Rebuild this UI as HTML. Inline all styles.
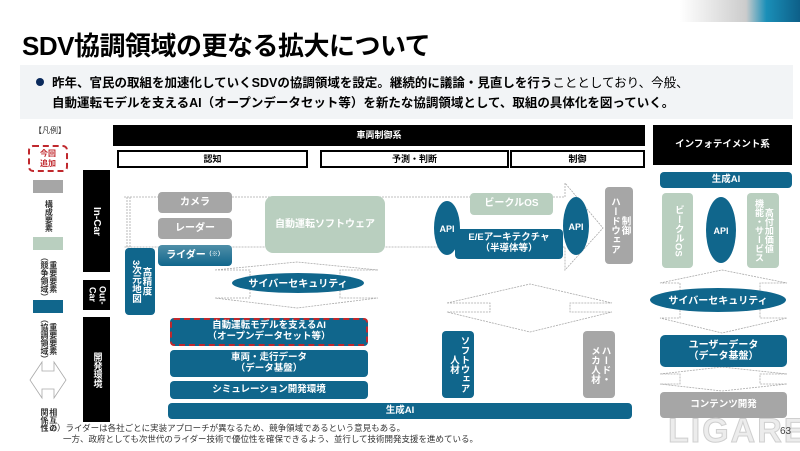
<!DOCTYPE html>
<html><head><meta charset="utf-8"><style>
*{margin:0;padding:0;box-sizing:border-box}
body{width:800px;height:450px;background:#fff;position:relative;overflow:hidden;font-family:"Liberation Sans","Noto Sans CJK JP",sans-serif}
.a{position:absolute;display:flex;align-items:center;justify-content:center;text-align:center;font-weight:bold;line-height:1.15}
.t{background:#10668c;color:#fff;border-radius:4px}
.g{background:#a6a6a6;color:#fff;border-radius:4px}
.l{background:#b9cfbf;color:#fff;border-radius:4px}
.k{background:#000;color:#fff}
.v{writing-mode:vertical-rl;line-height:1.1;white-space:nowrap}
.b{background:#fff;border:2px solid #000;color:#000;font-size:9px}
</style></head><body>
<div style="position:absolute;left:680px;top:0;width:120px;height:22px;background:linear-gradient(90deg,#fff 0%,#ccc 55%,#1a8fb8 72%,#0d5f88 100%)"></div>
<div style="position:absolute;left:22px;top:26px;font-size:26px;font-weight:bold;color:#000;letter-spacing:-0.5px">SDV協調領域の更なる拡大について</div>
<div style="position:absolute;left:20px;top:65px;width:773px;height:54px;background:#f2f4f6"></div>
<div style="position:absolute;left:36px;top:78px;width:8px;height:8px;border-radius:50%;background:#0b2a5c"></div>
<div style="position:absolute;left:52px;top:73px;font-size:12.5px;font-weight:bold;color:#000;line-height:20px;white-space:nowrap">昨年、官民の取組を加速化していくSDVの協調領域を設定。継続的に議論・見直しを行う<span style="font-weight:normal">こととしており、今般、</span><br>自動運転モデルを支えるAI（オープンデータセット等）を新たな協調領域として、取組の具体化を図っていく。</div>

<!-- legend -->
<div style="position:absolute;left:34px;top:125px;font-size:8px;color:#333">【凡例】</div>
<div class="a" style="left:28px;top:145px;width:40px;height:27px;border:2px dashed #c0282d;border-radius:5px;color:#c0282d;font-size:8px">今回<br>追加</div>
<div style="position:absolute;left:33px;top:180px;width:30px;height:13px;background:#a6a6a6"></div>
<div class="a v" style="left:38px;top:197px;width:20px;height:38px;font-size:8px;color:#333">構成要素</div>
<div style="position:absolute;left:33px;top:237px;width:30px;height:13px;background:#b9cfbf"></div>
<div class="a v" style="left:33px;top:254px;width:30px;height:46px;font-size:8px;color:#333">重要要素<br>（競争領域）</div>
<div style="position:absolute;left:33px;top:300px;width:30px;height:13px;background:#10668c"></div>
<div class="a v" style="left:33px;top:316px;width:30px;height:46px;font-size:8px;color:#333">重要要素<br>（協調領域）</div>
<div class="a v" style="left:33px;top:402px;width:30px;height:36px;font-size:8px;color:#333">相互の<br>関係性</div>

<!-- side bars -->
<div class="a k v" style="left:83px;top:170px;width:27px;height:102px;font-size:10px">In-Car</div>
<div class="a k v" style="left:83px;top:280px;width:27px;height:30px;font-size:9px">Out-<br>Car</div>
<div class="a k v" style="left:83px;top:317px;width:27px;height:105px;font-size:9px">開発環境</div>

<!-- headers -->
<div class="a k" style="left:113px;top:125px;width:532px;height:21px;font-size:9px">車両制御系</div>
<div class="a b" style="left:117px;top:150px;width:191px;height:18px">認知</div>
<div class="a b" style="left:320px;top:150px;width:189px;height:18px">予測・判断</div>
<div class="a b" style="left:510px;top:150px;width:135px;height:18px">制御</div>
<div class="a k" style="left:653px;top:125px;width:139px;height:40px;font-size:9.5px">インフォテイメント系</div>

<svg style="position:absolute;left:0;top:0" width="800" height="450">
<g fill="none" stroke="#aaa" stroke-width="0.8" stroke-dasharray="2,1">
<path d="M124,197 L565,197 L565,183 L603,228 L565,270 L565,247 L124,247"/>
<path d="M127,197V247M130,197V247"/>
<path d="M215,270 L297,262 L378,270 L340,270 L340,298 L378,298 L297,308 L215,298 L250,298 L250,270 Z"/>
<path d="M447,303 L530,284 L612,303 L570,303 L570,312 L612,312 L530,332 L447,312 L490,312 L490,303 Z"/>
<path d="M660,283 L722,270 L787,283 L760,283 L760,318 L787,318 L722,333 L660,318 L680,318 L680,283 Z"/>
<path d="M660,374 L722,367 L787,374 L760,374 L760,384 L787,384 L722,391 L660,384 L680,384 L680,374 Z"/>
</g>
<path d="M30,380 L42,362 L42,371 L54,371 L54,362 L66,380 L54,398 L54,389 L42,389 L42,398 Z" fill="none" stroke="#aaa" stroke-width="0.8"/>
<ellipse cx="298" cy="283" rx="66" ry="10" fill="#10668c"/>
<text x="298" y="287" font-size="10" font-weight="bold" fill="#fff" text-anchor="middle" font-family="Liberation Sans,Noto Sans CJK JP,sans-serif">サイバーセキュリティ</text>
<ellipse cx="718" cy="300" rx="68" ry="12" fill="#10668c"/>
<text x="718" y="304" font-size="10" font-weight="bold" fill="#fff" text-anchor="middle" font-family="Liberation Sans,Noto Sans CJK JP,sans-serif">サイバーセキュリティ</text>
<ellipse cx="447" cy="228" rx="13" ry="27" fill="#10668c"/>
<text x="447" y="232" font-size="9" font-weight="bold" fill="#fff" text-anchor="middle" font-family="Liberation Sans,sans-serif">API</text>
<ellipse cx="721" cy="230" rx="15" ry="33" fill="#10668c"/>
<text x="721" y="234" font-size="9" font-weight="bold" fill="#fff" text-anchor="middle" font-family="Liberation Sans,sans-serif">API</text>
</svg>

<div class="a g" style="left:158px;top:192px;width:74px;height:21px;font-size:10px">カメラ</div>
<div class="a g" style="left:158px;top:218px;width:74px;height:21px;font-size:10px">レーダー</div>
<div class="a t" style="left:158px;top:245px;width:74px;height:21px;font-size:10px;background:linear-gradient(#4f8fa8,#10668c)">ライダー<span style="font-size:6px">（※）</span></div>
<div class="a t v" style="left:125px;top:248px;width:30px;height:67px;font-size:9.5px">高精度<br>3次元地図</div>
<div class="a l" style="left:265px;top:196px;width:120px;height:57px;font-size:10px;border-radius:8px">自動運転ソフトウェア</div>
<div class="a l" style="left:470px;top:193px;width:83px;height:22px;font-size:10px">ビークルOS</div>
<div class="a t" style="left:455px;top:229px;width:108px;height:30px;font-size:9.5px">E/Eアーキテクチャ<br>（半導体等）</div>
<svg style="position:absolute;left:560px;top:195px" width="32" height="62"><ellipse cx="16" cy="31" rx="13" ry="29" fill="#10668c"/><text x="16" y="35" font-size="9" font-weight="bold" fill="#fff" text-anchor="middle" font-family="Liberation Sans,sans-serif">API</text></svg>
<div class="a g v" style="left:605px;top:187px;width:28px;height:77px;font-size:9.5px">制御<br>ハードウェア</div>

<div class="a t" style="left:170px;top:318px;width:198px;height:28px;font-size:9.5px;border:2px dashed #c0282d">自動運転モデルを支えるAI<br>（オープンデータセット等）</div>
<div class="a t" style="left:170px;top:350px;width:198px;height:27px;font-size:9.5px">車両・走行データ<br>（データ基盤）</div>
<div class="a t" style="left:170px;top:381px;width:198px;height:18px;font-size:9.5px">シミュレーション開発環境</div>
<div class="a t" style="left:168px;top:403px;width:464px;height:16px;font-size:9.5px">生成AI</div>
<div class="a t v" style="left:442px;top:331px;width:32px;height:67px;font-size:9.5px">ソフトウェア<br>人材</div>
<div class="a g v" style="left:583px;top:331px;width:32px;height:67px;font-size:9.5px">ハード・<br>メカ人材</div>

<div class="a t" style="left:660px;top:172px;width:132px;height:16px;font-size:9.5px">生成AI</div>
<div class="a l v" style="left:662px;top:193px;width:31px;height:75px;font-size:9.5px">ビークルOS</div>
<div class="a l v" style="left:747px;top:193px;width:32px;height:75px;font-size:9px">高付加価値<br>機能・サービス</div>
<div class="a t" style="left:660px;top:335px;width:127px;height:32px;font-size:10px;border-radius:5px">ユーザーデータ<br>（データ基盤）</div>
<div class="a g" style="left:660px;top:392px;width:127px;height:26px;font-size:9.5px">コンテンツ開発</div>
<div style="position:absolute;left:668px;top:412px;font-size:34px;font-weight:bold;color:#ececec;letter-spacing:2px;-webkit-text-stroke:1px #cfcfcf">LIGARE</div>
<div style="position:absolute;left:780px;top:426px;font-size:10px;color:#444">63</div>

<div style="position:absolute;left:40px;top:423px;font-size:8.5px;color:#333;line-height:11px;white-space:nowrap">（※）ライダーは各社ごとに実装アプローチが異なるため、競争領域であるという意見もある。<br><span style="padding-left:23px">一方、政府としても次世代のライダー技術で優位性を確保できるよう、並行して技術開発支援を進めている。</span></div>
</body></html>
